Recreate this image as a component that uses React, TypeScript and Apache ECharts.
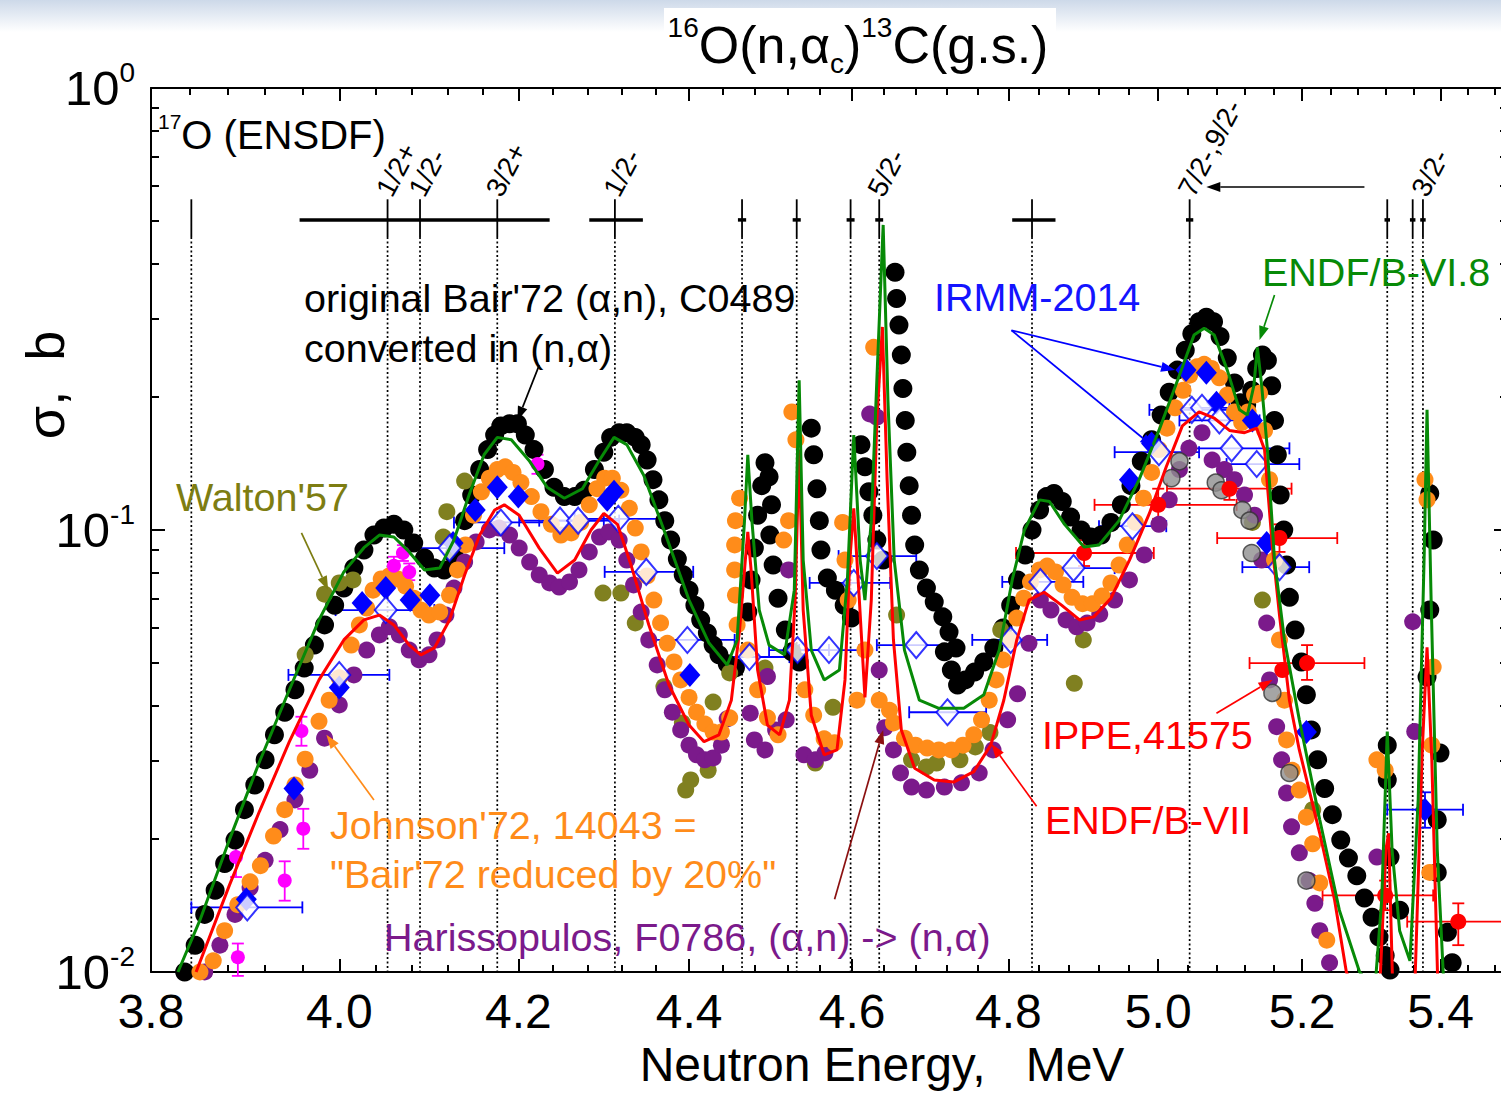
import React, { useEffect, useRef } from "react";
import * as echarts from "echarts";

const FONT = "'Liberation Sans', Arial, Helvetica, sans-serif";

// ---------- axes ----------
const xRange = [3.8, 5.5];
const yRange = [0.01, 1];
const xTickValues = [3.8, 4.0, 4.2, 4.4, 4.6, 4.8, 5.0, 5.2, 5.4];
const xMinorStep = 0.04;
const yTickValues = [0.01, 0.1, 1];
const yMinorMantissas = [2, 3, 4, 5, 6, 7, 8, 9];

// ---------- 17O ENSDF levels ----------
const ensdfLevels = [3.842, 4.053, 4.089, 4.176, 4.312, 4.464, 4.531, 4.598, 4.634, 4.831, 5.043, 5.322, 5.359, 5.374];
const ensdfWidths = [
  [3.957, 4.236], [4.282, 4.345], [4.805, 4.862], [4.459, 4.469], [4.526, 4.536],
  [4.593, 4.603], [4.629, 4.639], [5.038, 5.048], [5.318, 5.326], [5.355, 5.363], [5.370, 5.378],
];
const ensdfLabels = [
  { e: 4.053, t: "1/2+" }, { e: 4.089, t: "1/2-" }, { e: 4.176, t: "3/2+" }, { e: 4.312, t: "1/2-" },
  { e: 4.634, t: "5/2-" }, { e: 5.043, t: "7/2-,9/2-" }, { e: 5.374, t: "3/2-" },
];
const ensdfLevelTop = 0.56;
const ensdfSolidBottom = 0.46;
const ensdfWidthY = 0.503;
const ensdfLabelY = 0.575;

// ---------- data: [E (MeV), sigma (b)] ----------
const bair72 = [
  [3.835,0.0100],[3.846,0.0115],[3.856,0.0135],[3.867,0.0153],[3.877,0.0176],[3.888,0.0199],[3.898,0.0233],[3.909,0.0265],[3.920,0.0302],[3.930,0.0344],[3.941,0.0387],[3.952,0.0435],[3.962,0.0487],[3.973,0.0549],[3.984,0.0610],[3.995,0.0676],[4.005,0.0739],[4.016,0.0820],[4.027,0.0901],[4.038,0.0974],[4.049,0.101],[4.060,0.103],[4.071,0.100],[4.082,0.0935],[4.094,0.0864],[4.105,0.0820],[4.116,0.0812],[4.127,0.0878],[4.139,0.105],[4.147,0.120],[4.156,0.137],[4.165,0.152],[4.173,0.164],[4.180,0.172],[4.190,0.174],[4.199,0.174],[4.208,0.164],[4.218,0.152],[4.230,0.137],[4.241,0.125],[4.253,0.119],[4.265,0.119],[4.276,0.123],[4.288,0.137],[4.299,0.150],[4.307,0.162],[4.317,0.166],[4.326,0.166],[4.336,0.162],[4.343,0.156],[4.350,0.144],[4.357,0.130],[4.364,0.117],[4.371,0.105],[4.378,0.0949],[4.386,0.0860],[4.393,0.0792],[4.400,0.0731],[4.407,0.0676],[4.414,0.0626],[4.422,0.0585],[4.429,0.0549],[4.436,0.0522],[4.446,0.0498],[4.456,0.0488],
  [4.471,0.0652],[4.475,0.0771],[4.479,0.0910],[4.483,0.108],[4.488,0.126],[4.492,0.142],[4.497,0.132],[4.500,0.114],[4.498,0.0974],[4.502,0.0833],[4.508,0.0701],[4.517,0.0594],[4.525,0.0530],[4.534,0.0503],
  [4.549,0.170],[4.552,0.148],[4.556,0.124],[4.559,0.105],[4.561,0.0901],[4.569,0.0779],[4.579,0.0731],[4.590,0.0676],[4.599,0.0632],
  [4.611,0.156],[4.616,0.139],[4.621,0.122],[4.626,0.108],[4.631,0.0949],[4.639,0.0855],
  [4.654,0.383],[4.656,0.334],[4.659,0.291],[4.662,0.249],[4.664,0.209],[4.667,0.177],[4.669,0.150],[4.672,0.126],[4.675,0.108],[4.679,0.0925],[4.685,0.0812],[4.694,0.0739],[4.704,0.0687],[4.715,0.0636],[4.723,0.0588],[4.732,0.0541],[4.717,0.0530],[4.726,0.0482],[4.734,0.0446],
  [4.744,0.0458],[4.756,0.0477],[4.768,0.0503],[4.781,0.0541],[4.793,0.0600],[4.803,0.0676],[4.812,0.0771],[4.822,0.0878],[4.831,0.100],[4.841,0.111],[4.850,0.119],[4.860,0.121],[4.871,0.116],[4.882,0.107],[4.896,0.100],[4.909,0.0964],[4.923,0.0974],[4.936,0.104],[4.950,0.114],[4.963,0.126],[4.977,0.143],[4.991,0.160],[5.004,0.182],[5.015,0.205],[5.026,0.230],[5.037,0.255],[5.046,0.278],[5.056,0.296],[5.066,0.303],[5.076,0.296],[5.085,0.274],[5.095,0.245],[5.105,0.215],[5.113,0.194],[5.122,0.192],[5.129,0.207],[5.136,0.232],[5.144,0.249],[5.151,0.242],[5.157,0.212],[5.161,0.177],[5.165,0.148],[5.169,0.120],[5.174,0.100],[5.178,0.0833],[5.182,0.0704],[5.190,0.0594],[5.199,0.0503],[5.206,0.0424],[5.213,0.0353],[5.222,0.0302],[5.232,0.0260],[5.243,0.0227],[5.255,0.0199],[5.266,0.0181],[5.278,0.0165],[5.289,0.0147],[5.300,0.0133],[5.310,0.0120],[5.319,0.0109],[5.326,0.0101],
  [5.322,0.0326],[5.322,0.0272],[5.326,0.0182],[5.340,0.0138],[5.380,0.0465],[5.384,0.0659],[5.389,0.0949],[5.384,0.121],[5.399,0.0313],[5.395,0.0221],[5.395,0.0168],[5.410,0.0123],[5.417,0.0105],
];

const johnson72 = [
  [3.851,0.0100],[3.865,0.0106],[3.877,0.0124],[3.891,0.0142],[3.904,0.0160],[3.915,0.0174],[3.929,0.0203],[3.941,0.0233],[3.952,0.0265],[3.963,0.0303],[3.978,0.0369],[3.989,0.0412],[4.000,0.0463],[4.013,0.0549],[4.022,0.0610],[4.030,0.0666],[4.037,0.0731],[4.046,0.0775],[4.055,0.0787],[4.064,0.0775],[4.073,0.0746],[4.082,0.0701],[4.090,0.0659],[4.099,0.0642],[4.111,0.0652],[4.122,0.0712],[4.131,0.0812],[4.140,0.0925],[4.149,0.108],[4.158,0.122],[4.167,0.131],[4.176,0.137],[4.185,0.139],[4.194,0.135],[4.203,0.128],[4.215,0.119],[4.226,0.110],[4.238,0.103],[4.249,0.0974],[4.261,0.0985],[4.272,0.104],[4.282,0.114],[4.291,0.124],[4.300,0.131],[4.309,0.131],[4.319,0.123],[4.329,0.112],[4.336,0.101],[4.343,0.0892],[4.350,0.0787],[4.358,0.0694],[4.366,0.0616],[4.374,0.0554],[4.382,0.0503],[4.390,0.0458],[4.400,0.0418],[4.409,0.0387],[4.419,0.0364],[4.429,0.0349],[4.439,0.0349],[4.449,0.0376],
  [4.458,0.0610],[4.456,0.0712],[4.455,0.0812],[4.455,0.0925],[4.456,0.105],[4.461,0.118],[4.471,0.0535],[4.483,0.0435],[4.495,0.0376],[4.508,0.0344],[4.515,0.0949],[4.521,0.105],[4.525,0.185],[4.530,0.160],[4.541,0.0435],[4.552,0.0381],[4.565,0.0337],[4.578,0.0330],[4.588,0.104],[4.591,0.0855],[4.595,0.0694],[4.606,0.0412],[4.616,0.0535],[4.627,0.259],[4.634,0.0412],[4.647,0.0391],[4.652,0.0366],[4.666,0.0338],[4.680,0.0326],[4.695,0.0321],[4.710,0.0318],[4.726,0.0318],[4.741,0.0326],[4.755,0.0344],[4.765,0.0372],[4.775,0.0412],[4.784,0.0458],[4.793,0.0508],[4.802,0.0564],[4.811,0.0632],[4.820,0.0701],[4.829,0.0763],[4.841,0.0812],[4.851,0.0829],[4.862,0.0804],[4.872,0.0751],[4.884,0.0704],[4.898,0.0681],[4.911,0.0681],[4.924,0.0709],[4.936,0.0759],[4.947,0.0833],[4.958,0.0925],[4.969,0.104],[4.980,0.118],[4.991,0.135],[5.001,0.152],[5.012,0.170],[5.023,0.189],[5.034,0.207],[5.043,0.224],[5.053,0.234],[5.063,0.237],[5.073,0.232],[5.084,0.221],[5.095,0.202],[5.105,0.185],[5.115,0.175],[5.124,0.185],[5.133,0.202],[5.140,0.204],[5.147,0.168],[5.154,0.130],[5.161,0.0855],[5.168,0.0564],[5.175,0.0412],[5.178,0.0335],[5.186,0.0286],[5.196,0.0258],[5.206,0.0224],[5.215,0.0195],[5.225,0.0159],[5.235,0.0118],
  [5.307,0.0302],[5.319,0.0286],[5.377,0.130],[5.380,0.117],[5.389,0.0490],[5.384,0.0168],[5.387,0.0326],
];

const harissopulos = [
  [3.856,0.0100],[3.872,0.0115],[3.888,0.0135],[3.904,0.0155],[3.920,0.0179],[3.936,0.0210],[3.952,0.0245],[3.968,0.0286],[3.984,0.0338],[4.000,0.0402],[4.016,0.0470],[4.030,0.0535],[4.044,0.0579],[4.055,0.0604],[4.066,0.0579],[4.077,0.0535],[4.088,0.0508],[4.099,0.0522],[4.108,0.0564],[4.118,0.0642],[4.127,0.0739],[4.139,0.0846],[4.152,0.0940],[4.167,0.100],[4.178,0.101],[4.190,0.0974],[4.201,0.0910],[4.213,0.0846],[4.224,0.0791],[4.236,0.0759],[4.247,0.0743],[4.259,0.0763],[4.270,0.0812],[4.282,0.0892],[4.294,0.0964],[4.305,0.0990],[4.317,0.0949],[4.326,0.0855],[4.334,0.0751],[4.343,0.0652],[4.352,0.0564],[4.362,0.0495],[4.371,0.0435],[4.380,0.0387],[4.390,0.0353],[4.400,0.0326],[4.409,0.0310],[4.419,0.0302],[4.429,0.0305],[4.439,0.0326],[4.446,0.0374],
  [4.474,0.0385],[4.479,0.0335],[4.492,0.0318],[4.505,0.0353],[4.518,0.0372],[4.540,0.0310],[4.554,0.0302],[4.566,0.0313],[4.495,0.0466],[4.521,0.0812],[4.622,0.183],[4.631,0.180],[4.634,0.0482],[4.641,0.0357],[4.652,0.0318],[4.661,0.0282],[4.675,0.0262],[4.694,0.0258],[4.717,0.0262],[4.739,0.0268],[4.762,0.0282],[4.780,0.0318],[4.799,0.0372],[4.812,0.0426],[4.827,0.0554],[4.842,0.0694],[4.856,0.0659],[4.876,0.0626],[4.890,0.0604],[4.904,0.0616],[4.921,0.0645],[4.941,0.0694],[4.961,0.0771],[4.981,0.0878],[5.001,0.103],[5.015,0.117],[5.029,0.137],[5.042,0.153],[5.060,0.166],[5.074,0.144],[5.091,0.137],[5.105,0.130],[5.119,0.120],[5.133,0.108],[5.143,0.0855],[5.150,0.0616],[5.154,0.0458],[5.164,0.0359],[5.171,0.0302],[5.178,0.0254],[5.185,0.0213],[5.196,0.0186],[5.210,0.0161],[5.218,0.0143],[5.225,0.0124],[5.239,0.0105],
  [5.307,0.0182],[5.359,0.0620],[5.362,0.0350],
];

const walton57 = [
  [3.963,0.0522],[3.984,0.0716],[4.000,0.0759],[4.015,0.0771],[4.115,0.0964],[4.119,0.110],[4.139,0.129],[4.298,0.0720],[4.319,0.0720],[4.336,0.0616],[4.370,0.0442],[4.392,0.0366],[4.396,0.0258],[4.402,0.0272],[4.423,0.0286],[4.429,0.0408],[4.449,0.0475],[4.492,0.0487],[4.554,0.0297],[4.576,0.0397],[4.656,0.0642],[4.675,0.0302],[4.694,0.0291],[4.707,0.0297],[4.737,0.0302],[4.757,0.0323],[4.776,0.0348],[4.790,0.0594],[4.887,0.0450],[4.899,0.0564],[5.130,0.104],[5.144,0.0694],[5.215,0.0233],
];

const grayPoints = [
  [5.018,0.131],[5.029,0.143],[5.079,0.128],[5.087,0.123],[5.116,0.111],[5.126,0.105],[5.129,0.0887],[5.158,0.0428],[5.182,0.0282],[5.206,0.0161],
];

// [E, sigma, sigmaLow, sigmaHigh]
const magentaPoints = [
  [3.891,0.0108,0.0098,0.0116],[3.889,0.0182,0.0164,0.0202],[3.941,0.0161,0.0145,0.0178],[3.961,0.0211,0.0190,0.0234],[3.959,0.0351,0.0325,0.0378],[4.060,0.0830,0.0790,0.0870],[4.070,0.0887,0.0851,0.0924],[4.077,0.0803,0.0770,0.0840],[4.222,0.141,0.134,0.148],
];

const irmmFilled = [
  [3.900,0.0146],[3.951,0.0260],[4.000,0.0440],[4.025,0.0684],[4.051,0.0739],[4.078,0.0694],[4.100,0.0712],[4.126,0.0935],[4.151,0.111],[4.176,0.125],[4.200,0.119],[4.303,0.117],[4.311,0.122],[4.401,0.0470],[4.961,0.130],[4.991,0.157],[5.038,0.230],[5.066,0.227],[5.080,0.194],[5.130,0.177],[5.150,0.0935],[5.206,0.0349],[5.377,0.0233],
];
// [E, sigma, Elow, Ehigh, sigmaLow, sigmaHigh]
const irmmFilledErr = [[5.377, 0.0233, 5.322, 5.433, 0.0212, 0.0255]];

// [E, sigma, Elow, Ehigh]
const irmmOpen = [
  [3.901,0.0140,3.842,3.960],[4.000,0.0470,3.945,4.055],[4.051,0.0659,3.996,4.105],[4.122,0.0910,4.075,4.184],[4.180,0.104,4.127,4.236],[4.248,0.105,4.201,4.299],[4.269,0.105,4.224,4.317],[4.316,0.106,4.265,4.370],[4.349,0.0804,4.300,4.405],[4.398,0.0564,4.346,4.455],[4.473,0.0516,4.436,4.522],[4.532,0.0535,4.497,4.571],[4.571,0.0535,4.534,4.609],[4.602,0.0759,4.547,4.648],[4.631,0.0873,4.583,4.681],[4.681,0.0549,4.631,4.732],[4.721,0.0387,4.672,4.771],[4.803,0.0564,4.753,4.851],[4.842,0.0763,4.792,4.899],[4.886,0.0820,4.841,4.941],[4.965,0.102,4.920,5.011],[5.001,0.150,4.941,5.056],[5.046,0.187,4.988,5.112],[5.060,0.189,5.029,5.098],[5.084,0.177,5.029,5.140],[5.101,0.153,5.042,5.182],[5.136,0.141,5.094,5.196],[5.168,0.0824,5.116,5.210],
];

// [E, sigma, Elow, Ehigh, sigmaLow, sigmaHigh]
const ippe41575 = [
  [4.900,0.0887,4.810,4.994,0.0829,0.0949],[5.000,0.114,4.914,5.108,0.106,0.124],[5.098,0.124,5.012,5.185,0.117,0.133],[5.168,0.0959,5.081,5.250,0.0892,0.103],[5.207,0.0500,5.126,5.289,0.0458,0.0549],[5.319,0.0149,5.229,5.389,0.0138,0.0161],[5.426,0.0130,5.351,5.520,0.0115,0.0143],
];
const ippeExtra = [[5.172, 0.0482]];

const endfB68 = [
  [3.828,0.0100],[3.851,0.0131],[3.882,0.0199],[3.914,0.0299],[3.946,0.0435],[3.978,0.0626],[4.005,0.0804],[4.027,0.0912],[4.044,0.0974],[4.060,0.0964],[4.077,0.0892],[4.094,0.0812],[4.111,0.0820],[4.127,0.0949],[4.144,0.120],[4.161,0.148],[4.176,0.162],[4.192,0.160],[4.213,0.143],[4.233,0.125],[4.253,0.118],[4.274,0.124],[4.294,0.144],[4.311,0.162],[4.326,0.156],[4.346,0.133],[4.370,0.100],[4.400,0.0694],[4.424,0.0555],[4.446,0.0495],[4.458,0.0564],[4.467,0.105],[4.471,0.148],[4.476,0.105],[4.485,0.0659],[4.497,0.0549],[4.516,0.0522],[4.528,0.0731],[4.534,0.218],[4.539,0.0855],[4.549,0.0535],[4.565,0.0458],[4.584,0.0482],[4.594,0.0771],[4.602,0.164],[4.610,0.0855],[4.616,0.0694],[4.624,0.105],[4.631,0.218],[4.639,0.490],[4.645,0.197],[4.653,0.0855],[4.666,0.0535],[4.685,0.0412],[4.710,0.0395],[4.742,0.0395],[4.768,0.0424],[4.788,0.0535],[4.805,0.0771],[4.821,0.100],[4.841,0.117],[4.854,0.116],[4.874,0.103],[4.900,0.0915],[4.920,0.0925],[4.947,0.105],[4.974,0.130],[5.001,0.168],[5.029,0.224],[5.049,0.276],[5.063,0.286],[5.077,0.276],[5.095,0.230],[5.112,0.187],[5.123,0.182],[5.132,0.212],[5.137,0.259],[5.143,0.212],[5.151,0.152],[5.161,0.0855],[5.175,0.0564],[5.196,0.0372],[5.225,0.0221],[5.253,0.0138],[5.282,0.0100],[5.304,0.0091],[5.314,0.0146],[5.322,0.0350],[5.329,0.0189],[5.340,0.0124],[5.355,0.0106],[5.367,0.0245],[5.376,0.0901],[5.380,0.187],[5.386,0.0694],[5.395,0.0189],[5.404,0.0098],[5.414,0.0086],
];

const endfB7 = [
  [3.847,0.0100],[3.882,0.0157],[3.914,0.0231],[3.946,0.0332],[3.978,0.0458],[4.005,0.0564],[4.027,0.0626],[4.044,0.0642],[4.060,0.0610],[4.077,0.0549],[4.090,0.0522],[4.105,0.0541],[4.122,0.0626],[4.139,0.0791],[4.156,0.0974],[4.173,0.111],[4.184,0.114],[4.201,0.108],[4.224,0.0910],[4.245,0.0799],[4.265,0.0855],[4.284,0.100],[4.299,0.109],[4.315,0.103],[4.331,0.0833],[4.352,0.0610],[4.376,0.0446],[4.400,0.0362],[4.418,0.0332],[4.436,0.0344],[4.451,0.0412],[4.461,0.0594],[4.468,0.0855],[4.471,0.0990],[4.475,0.0812],[4.483,0.0482],[4.495,0.0362],[4.510,0.0344],[4.522,0.0412],[4.529,0.0694],[4.534,0.152],[4.539,0.0659],[4.549,0.0381],[4.565,0.0310],[4.581,0.0318],[4.591,0.0458],[4.597,0.0855],[4.602,0.112],[4.609,0.0694],[4.616,0.0418],[4.624,0.0694],[4.631,0.177],[4.638,0.288],[4.644,0.130],[4.652,0.0564],[4.662,0.0353],[4.679,0.0289],[4.704,0.0272],[4.729,0.0269],[4.755,0.0284],[4.777,0.0326],[4.794,0.0412],[4.811,0.0564],[4.827,0.0694],[4.847,0.0723],[4.870,0.0676],[4.894,0.0626],[4.913,0.0636],[4.936,0.0701],[4.961,0.0855],[4.988,0.109],[5.011,0.139],[5.033,0.172],[5.056,0.185],[5.077,0.179],[5.098,0.168],[5.119,0.166],[5.136,0.170],[5.147,0.152],[5.158,0.0915],[5.168,0.0642],[5.182,0.0412],[5.196,0.0318],[5.225,0.0206],[5.246,0.0146],[5.263,0.0100],[5.282,0.0086],[5.311,0.0091],[5.320,0.0189],[5.324,0.0206],[5.330,0.0091],[5.362,0.0091],[5.373,0.0318],[5.380,0.0543],[5.387,0.0302],[5.396,0.0091],[5.429,0.0086],
];

// annotation arrows: [E1, s1] -> [E2, s2] (head at the second point)
const arrows = [
  { from: [4.224, 0.236], to: [4.199, 0.177], color: "#000000" },
  { from: [3.959, 0.0985], to: [3.988, 0.0731], color: "#7d7d12" },
  { from: [4.038, 0.0245], to: [3.986, 0.0344], color: "#ff8c1a" },
  { from: [4.578, 0.0146], to: [4.639, 0.0353], color: "#8b1010" },
  { from: [4.837, 0.0237], to: [4.778, 0.0328], color: "#ff0000" },
  { from: [5.080, 0.0385], to: [5.158, 0.0458], color: "#ff0000" },
  { from: [4.804, 0.283], to: [5.023, 0.230], color: "#0000ff" },
  { from: [4.804, 0.283], to: [4.994, 0.154], color: "#0000ff" },
  { from: [5.161, 0.340], to: [5.140, 0.269], color: "#078a07" },
  { from: [5.289, 0.597], to: [5.066, 0.597], color: "#000000" },
];

const L = (v) => Math.log10(v);
const xy = (arr) => arr.map((d) => [L(d[0]), L(d[1])]);

const COLORS = {
  black: "#000000",
  orange: "#ff8c1a",
  purple: "#7b1a8b",
  olive: "#808020",
  gray: "#8e8e8e",
  magenta: "#ff00ff",
  blue: "#0000ff",
  red: "#ff0000",
  green: "#078a07",
};

function buildOption() {
  const xMin = L(xRange[0]);
  const xMax = L(xRange[1]);
  const yMin = L(yRange[0]);
  const yMax = L(yRange[1]);

  const xMajor = xTickValues.map(L);
  const xMinor = [];
  for (let k = 1; ; k++) {
    const e = +(xRange[0] + k * xMinorStep).toFixed(4);
    if (e > xRange[1]) break;
    if (k % 5 !== 0) xMinor.push(L(e));
  }
  const yMajor = yTickValues.map(L);
  const yMinor = [];
  for (let d = 0; d < yTickValues.length - 1; d++) {
    yMinorMantissas.forEach((m) => yMinor.push(L(m * yTickValues[d])));
  }

  const axisLineStyle = { color: "#000", width: 2 };
  const mkX = (position, ticks, len, withLabel, withLine) => ({
    type: "value",
    position,
    min: xMin,
    max: xMax,
    axisLine: { show: withLine, onZero: false, lineStyle: axisLineStyle },
    axisTick: { show: true, inside: true, length: len, lineStyle: { color: "#000", width: 2 }, customValues: ticks },
    axisLabel: withLabel
      ? {
          show: true,
          customValues: ticks,
          formatter: (v) => Math.pow(10, v).toFixed(1),
          fontSize: 48,
          fontFamily: FONT,
          color: "#000",
          margin: 15,
        }
      : { show: false },
    splitLine: { show: false },
    minorTick: { show: false },
  });
  const mkY = (position, ticks, len, withLabel, withLine) => ({
    type: "value",
    position,
    min: yMin,
    max: yMax,
    axisLine: { show: withLine, onZero: false, lineStyle: axisLineStyle },
    axisTick: { show: true, inside: true, length: len, lineStyle: { color: "#000", width: 2 }, customValues: ticks },
    axisLabel: withLabel
      ? {
          show: true,
          customValues: ticks,
          formatter: (v) => `{b|10}{s|${Math.round(v)}}`,
          margin: 16,
          rich: {
            b: { fontSize: 49, fontFamily: FONT, color: "#000", lineHeight: 60, verticalAlign: "middle" },
            s: { fontSize: 28, fontFamily: FONT, color: "#000", verticalAlign: "top" },
          },
        }
      : { show: false },
    splitLine: { show: false },
    minorTick: { show: false },
  });

  const scatter = (name, data, color, size, extra = {}) => ({
    name,
    type: "scatter",
    data: xy(data),
    symbol: "circle",
    symbolSize: size,
    itemStyle: { color, opacity: 1 },
    silent: true,
    clip: true,
    ...extra,
  });

  const errX = (name, data, color) => ({
    name,
    type: "custom",
    coordinateSystem: "cartesian2d",
    data: data.map((d) => [L(d[0]), L(d[1]), L(d[2]), L(d[3])]),
    encode: { x: 0, y: 1 },
    silent: true,
    renderItem: (params, api) => {
      const y = api.value(1);
      const lo = api.coord([api.value(2), y]);
      const hi = api.coord([api.value(3), y]);
      const cap = 6;
      const st = { stroke: color, lineWidth: 1.8 };
      return {
        type: "group",
        children: [
          { type: "line", shape: { x1: lo[0], y1: lo[1], x2: hi[0], y2: hi[1] }, style: st },
          { type: "line", shape: { x1: lo[0], y1: lo[1] - cap, x2: lo[0], y2: lo[1] + cap }, style: st },
          { type: "line", shape: { x1: hi[0], y1: hi[1] - cap, x2: hi[0], y2: hi[1] + cap }, style: st },
        ],
      };
    },
  });

  const errXY = (name, data, color) => ({
    name,
    type: "custom",
    coordinateSystem: "cartesian2d",
    data: data.map((d) => [L(d[0]), L(d[1]), L(d[2]), L(d[3]), L(d[4]), L(d[5])]),
    encode: { x: 0, y: 1 },
    silent: true,
    renderItem: (params, api) => {
      const x = api.value(0);
      const y = api.value(1);
      const l = api.coord([api.value(2), y]);
      const r = api.coord([api.value(3), y]);
      const b = api.coord([x, api.value(4)]);
      const t = api.coord([x, api.value(5)]);
      const cap = 6;
      const st = { stroke: color, lineWidth: 1.8 };
      return {
        type: "group",
        children: [
          { type: "line", shape: { x1: l[0], y1: l[1], x2: r[0], y2: r[1] }, style: st },
          { type: "line", shape: { x1: l[0], y1: l[1] - cap, x2: l[0], y2: l[1] + cap }, style: st },
          { type: "line", shape: { x1: r[0], y1: r[1] - cap, x2: r[0], y2: r[1] + cap }, style: st },
          { type: "line", shape: { x1: b[0], y1: b[1], x2: t[0], y2: t[1] }, style: st },
          { type: "line", shape: { x1: b[0] - cap, y1: b[1], x2: b[0] + cap, y2: b[1] }, style: st },
          { type: "line", shape: { x1: t[0] - cap, y1: t[1], x2: t[0] + cap, y2: t[1] }, style: st },
        ],
      };
    },
  });

  const errY = (name, data, color) => ({
    name,
    type: "custom",
    coordinateSystem: "cartesian2d",
    data: data.map((d) => [L(d[0]), L(d[1]), L(d[2]), L(d[3])]),
    encode: { x: 0, y: 1 },
    silent: true,
    renderItem: (params, api) => {
      const x = api.value(0);
      const b = api.coord([x, api.value(2)]);
      const t = api.coord([x, api.value(3)]);
      const cap = 6;
      const st = { stroke: color, lineWidth: 1.8 };
      return {
        type: "group",
        children: [
          { type: "line", shape: { x1: b[0], y1: b[1], x2: t[0], y2: t[1] }, style: st },
          { type: "line", shape: { x1: b[0] - cap, y1: b[1], x2: b[0] + cap, y2: b[1] }, style: st },
          { type: "line", shape: { x1: t[0] - cap, y1: t[1], x2: t[0] + cap, y2: t[1] }, style: st },
        ],
      };
    },
  });

  const levelsSeries = {
    name: "ENSDF levels",
    type: "custom",
    coordinateSystem: "cartesian2d",
    data: ensdfLevels.map((e) => [L(e), L(ensdfLevelTop)]),
    encode: { x: 0, y: 1 },
    silent: true,
    renderItem: (params, api) => {
      const x = api.value(0);
      const pTop = api.coord([x, L(ensdfLevelTop)]);
      const pMid = api.coord([x, L(ensdfSolidBottom)]);
      const pBot = api.coord([x, L(yRange[0])]);
      return {
        type: "group",
        children: [
          { type: "line", shape: { x1: pTop[0], y1: pTop[1], x2: pMid[0], y2: pMid[1] }, style: { stroke: "#000", lineWidth: 1.8 } },
          { type: "line", shape: { x1: pMid[0], y1: pMid[1], x2: pBot[0], y2: pBot[1] }, style: { stroke: "#000", lineWidth: 1.7, lineDash: [2, 2.5] } },
        ],
      };
    },
  };

  const widthsSeries = {
    name: "ENSDF widths",
    type: "custom",
    coordinateSystem: "cartesian2d",
    data: ensdfWidths.map((w) => [L(w[0]), L(ensdfWidthY), L(w[1])]),
    encode: { x: [0, 2], y: 1 },
    silent: true,
    renderItem: (params, api) => {
      const a = api.coord([api.value(0), api.value(1)]);
      const b = api.coord([api.value(2), api.value(1)]);
      return { type: "line", shape: { x1: a[0], y1: a[1], x2: b[0], y2: b[1] }, style: { stroke: "#000", lineWidth: 3.5 } };
    },
  };

  const labelsSeries = {
    name: "ENSDF labels",
    type: "custom",
    coordinateSystem: "cartesian2d",
    data: ensdfLabels.map((d) => [L(d.e), L(ensdfLabelY)]),
    encode: { x: 0, y: 1 },
    silent: true,
    renderItem: (params, api) => {
      const p = api.coord([api.value(0), api.value(1)]);
      return {
        type: "text",
        x: p[0] - 4,
        y: p[1],
        rotation: (62 * Math.PI) / 180,
        style: {
          text: ensdfLabels[params.dataIndex].t,
          fontSize: 28,
          fontFamily: FONT,
          fill: "#000",
          align: "left",
          verticalAlign: "middle",
          textAlign: "left",
          textVerticalAlign: "middle",
        },
      };
    },
  };

  const arrowSeries = {
    name: "annotation arrows",
    type: "custom",
    coordinateSystem: "cartesian2d",
    data: arrows.map((a) => [L(a.from[0]), L(a.from[1]), L(a.to[0]), L(a.to[1])]),
    encode: { x: [0, 2], y: [1, 3] },
    silent: true,
    z: 20,
    renderItem: (params, api) => {
      const color = arrows[params.dataIndex].color;
      const p1 = api.coord([api.value(0), api.value(1)]);
      const p2 = api.coord([api.value(2), api.value(3)]);
      const dx = p2[0] - p1[0];
      const dy = p2[1] - p1[1];
      const len = Math.sqrt(dx * dx + dy * dy) || 1;
      const ux = dx / len;
      const uy = dy / len;
      const head = 14;
      const half = 5;
      const bx = p2[0] - ux * head;
      const by = p2[1] - uy * head;
      return {
        type: "group",
        children: [
          { type: "line", shape: { x1: p1[0], y1: p1[1], x2: bx, y2: by }, style: { stroke: color, lineWidth: 1.7 } },
          {
            type: "polygon",
            shape: {
              points: [
                [p2[0], p2[1]],
                [bx - uy * half, by + ux * half],
                [bx + uy * half, by - ux * half],
              ],
            },
            style: { fill: color },
          },
        ],
      };
    },
  };

  const series = [
    levelsSeries,
    widthsSeries,
    scatter("Bair'72", bair72, COLORS.black, 19),
    scatter("Walton'57", walton57, COLORS.olive, 17),
    scatter("Harissopulos", harissopulos, COLORS.purple, 17),
    scatter("Johnson'72", johnson72, COLORS.orange, 17),
    scatter("other", grayPoints, COLORS.gray, 17, { itemStyle: { color: COLORS.gray, borderColor: "#333", borderWidth: 1.5 } }),
    errY("magenta err", magentaPoints, COLORS.magenta),
    scatter("magenta", magentaPoints.map((d) => [d[0], d[1]]), COLORS.magenta, 14),
    {
      name: "ENDF/B-VII",
      type: "line",
      data: xy(endfB7),
      showSymbol: false,
      symbol: "none",
      lineStyle: { color: COLORS.red, width: 3 },
      clip: true,
      silent: true,
    },
    {
      name: "ENDF/B-VI.8",
      type: "line",
      data: xy(endfB68),
      showSymbol: false,
      symbol: "none",
      lineStyle: { color: COLORS.green, width: 3 },
      clip: true,
      silent: true,
    },
    errX("IRMM open err", irmmOpen, COLORS.blue),
    errXY("IRMM filled err", irmmFilledErr, COLORS.blue),
    scatter("IRMM-2014", irmmFilled, COLORS.blue, 22, { symbol: "diamond", symbolSize: [21, 24] }),
    scatter("IRMM-2014 open", irmmOpen.map((d) => [d[0], d[1]]), "#fff", 22, {
      symbol: "diamond",
      symbolSize: [22, 26],
      itemStyle: { color: "#ffffff", borderColor: COLORS.blue, borderWidth: 2 },
    }),
    errXY("IPPE err", ippe41575, COLORS.red),
    scatter("IPPE,41575", ippe41575.map((d) => [d[0], d[1]]).concat(ippeExtra), COLORS.red, 16),
    arrowSeries,
    labelsSeries,
  ];

  const txt = (text, x, y, color, size, extra = {}) => ({
    type: "text",
    x,
    y,
    z: 100,
    silent: true,
    style: {
      text,
      fill: color,
      fontSize: size,
      fontFamily: FONT,
      align: "left",
      verticalAlign: "middle",
      textAlign: "left",
      textVerticalAlign: "middle",
      ...extra,
    },
  });

  const graphic = [
    {
      type: "rect",
      z: -10,
      silent: true,
      shape: { x: 0, y: 0, width: 1501, height: 32 },
      style: {
        fill: new echarts.graphic.LinearGradient(0, 0, 0, 1, [
          { offset: 0, color: "#cdd9e9" },
          { offset: 1, color: "#ffffff" },
        ]),
      },
    },
    { type: "rect", z: -9, silent: true, shape: { x: 664, y: 8, width: 392, height: 70 }, style: { fill: "#ffffff" } },
    {
      type: "text",
      x: 858,
      y: 45,
      z: 100,
      silent: true,
      style: {
        text: "{s|16}{b|O(n,α}{c|c}{b|)}{s|13}{b|C(g.s.)}",
        align: "center",
        verticalAlign: "middle",
        textAlign: "center",
        textVerticalAlign: "middle",
        rich: {
          b: { fontSize: 52, fontFamily: FONT, fill: "#000", color: "#000", lineHeight: 64, verticalAlign: "middle" },
          s: { fontSize: 28, fontFamily: FONT, fill: "#000", color: "#000", verticalAlign: "top" },
          c: { fontSize: 28, fontFamily: FONT, fill: "#000", color: "#000", verticalAlign: "bottom" },
        },
      },
    },
    {
      type: "text",
      x: 158,
      y: 135,
      z: 100,
      silent: true,
      style: {
        text: "{s|17}{b|O (ENSDF)}",
        align: "left",
        verticalAlign: "middle",
        textAlign: "left",
        textVerticalAlign: "middle",
        rich: {
          b: { fontSize: 40, fontFamily: FONT, fill: "#000", color: "#000", lineHeight: 48, verticalAlign: "middle" },
          s: { fontSize: 21, fontFamily: FONT, fill: "#000", color: "#000", verticalAlign: "top" },
        },
      },
    },
    txt("original Bair'72 (α,n), C0489", 304, 298, "#000", 39.5),
    txt("converted in (n,α)", 304, 348, "#000", 39.5),
    txt("Walton'57", 176, 497, "#7d7d12", 39.5),
    txt("IRMM-2014", 934, 297, "#1414ff", 39.5),
    txt("ENDF/B-VI.8", 1262, 272, "#078a07", 39.5),
    txt("IPPE,41575", 1042, 735, "#ff0000", 39.5),
    txt("ENDF/B-VII", 1045, 820, "#ff0000", 39.5),
    txt("Johnson'72, 14043 =", 330, 825, "#ff8c1a", 39.5),
    txt("\"Bair'72 reduced by 20%\"", 330, 874, "#ff8c1a", 39.5),
    txt("Harissopulos, F0786, (α,n) -> (n,α)", 384, 937, "#7b1a8b", 39.5),
    txt("Neutron Energy,   MeV", 882, 1064, "#000", 48, { align: "center", textAlign: "center" }),
    {
      type: "text",
      x: 45,
      y: 385,
      z: 100,
      rotation: Math.PI / 2,
      silent: true,
      style: {
        text: "σ,  b",
        fill: "#000",
        fontSize: 54,
        fontFamily: FONT,
        align: "center",
        verticalAlign: "middle",
        textAlign: "center",
        textVerticalAlign: "middle",
      },
    },
  ];

  return {
    animation: false,
    backgroundColor: "#ffffff",
    textStyle: { fontFamily: FONT },
    grid: {
      left: 151,
      top: 88,
      width: 1357,
      height: 884,
      containLabel: false,
      outerBoundsMode: "none",
    },
    xAxis: [
      mkX("bottom", xMajor, 13, true, true),
      mkX("bottom", xMinor, 7, false, false),
      mkX("top", xMajor, 13, false, true),
      mkX("top", xMinor, 7, false, false),
    ],
    yAxis: [
      mkY("left", yMajor, 14, true, true),
      mkY("left", yMinor, 8, false, false),
      mkY("right", yMajor, 14, false, true),
      mkY("right", yMinor, 8, false, false),
    ],
    series,
    graphic,
  };
}

export default function App() {
  const ref = useRef(null);
  useEffect(() => {
    document.body.style.margin = "0";
    const chart = echarts.init(ref.current, null, { renderer: "svg" });
    chart.setOption(buildOption());
    return () => chart.dispose();
  }, []);
  return <div ref={ref} style={{ width: 1501, height: 1096, background: "#fff", overflow: "hidden" }} />;
}
